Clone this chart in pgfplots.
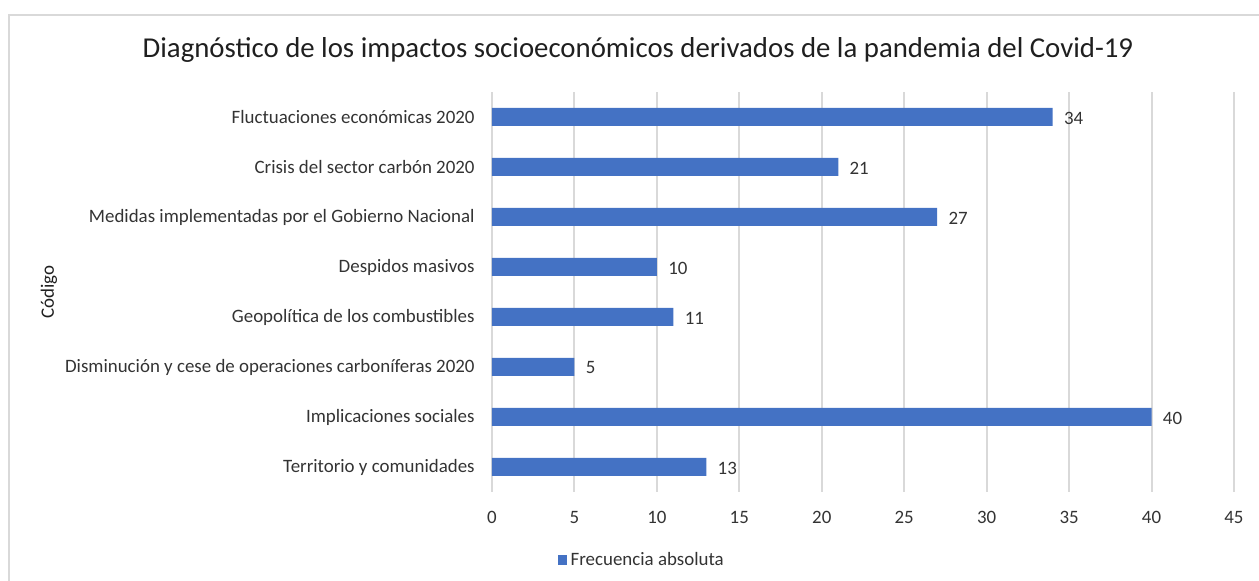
\documentclass[border=0pt]{standalone}
\usepackage{fontspec}
\setmainfont{Carlito}
\usepackage{pgfplots}
\pgfplotsset{compat=1.18}
\definecolor{barblue}{HTML}{4472C4}
\definecolor{gridgray}{HTML}{D9D9D9}
\definecolor{txt}{HTML}{333333}
\definecolor{ttl}{HTML}{1F1F1F}
\begin{document}
\begin{tikzpicture}
\path[use as bounding box] (-246pt,-44.5pt) rectangle (383.5pt,246pt);
\draw[gridgray, line width=1pt] (-241.5pt,-46pt) -- (-241.5pt,238.5pt) -- (385pt,238.5pt);
\begin{axis}[
  at={(0pt,0pt)}, anchor=south west,
  scale only axis, width=371pt, height=200pt,
  xbar, bar width=9pt,
  xmin=0, xmax=45, ymin=-0.5, ymax=7.5,
  xtick={0,5,...,45}, ytick={0,...,7},
  yticklabels={Territorio y comunidades, Implicaciones sociales, Disminución y cese de operaciones carboníferas 2020, Geopolítica de los combustibles, {Despidos masivos\hspace{0.22em}}, Medidas implementadas por el Gobierno Nacional, Crisis del sector carbón 2020, Fluctuaciones económicas 2020},
  axis line style={draw=none},
  major tick length=0pt,
  xmajorgrids, grid style={gridgray, line width=1pt},
  font=\fontsize{9.45}{11}\selectfont,
  tick label style={text=txt},
  /pgf/number format/assume math mode=true,
  yticklabel style={inner sep=0pt, xshift=-8.5pt},
  xticklabel style={inner sep=0pt, yshift=-9.5pt},
  nodes near coords,
  nodes near coords style={anchor=west, inner sep=0pt, xshift=5.5pt, yshift=-0.5pt, text=txt, font=\fontsize{9.45}{11}\selectfont},
  legend style={at={(0.203,-0.17)}, anchor=center, draw=none, fill=none, font=\fontsize{9.45}{11}\selectfont, text=txt, inner sep=0pt},
  legend image code/.code={\fill[barblue] (-0.6pt,-2.3pt) rectangle (4pt,2.3pt);},
]
\addplot[fill=barblue, draw=none] coordinates {
(13,0) (40,1) (5,2) (11,3) (10,4) (27,5) (21,6) (34,7)};
\addlegendentry{Frecuencia absoluta}
\end{axis}
\node[text=ttl, font=\fontsize{14.4}{17}\selectfont] at (73pt,221pt) {Diagnóstico de los impactos socioeconómicos derivados de la pandemia del Covid-19};
\node[rotate=90, text=ttl, font=\fontsize{9.45}{11}\selectfont] at (-221.5pt,100pt) {Código};
\end{tikzpicture}
\end{document}
